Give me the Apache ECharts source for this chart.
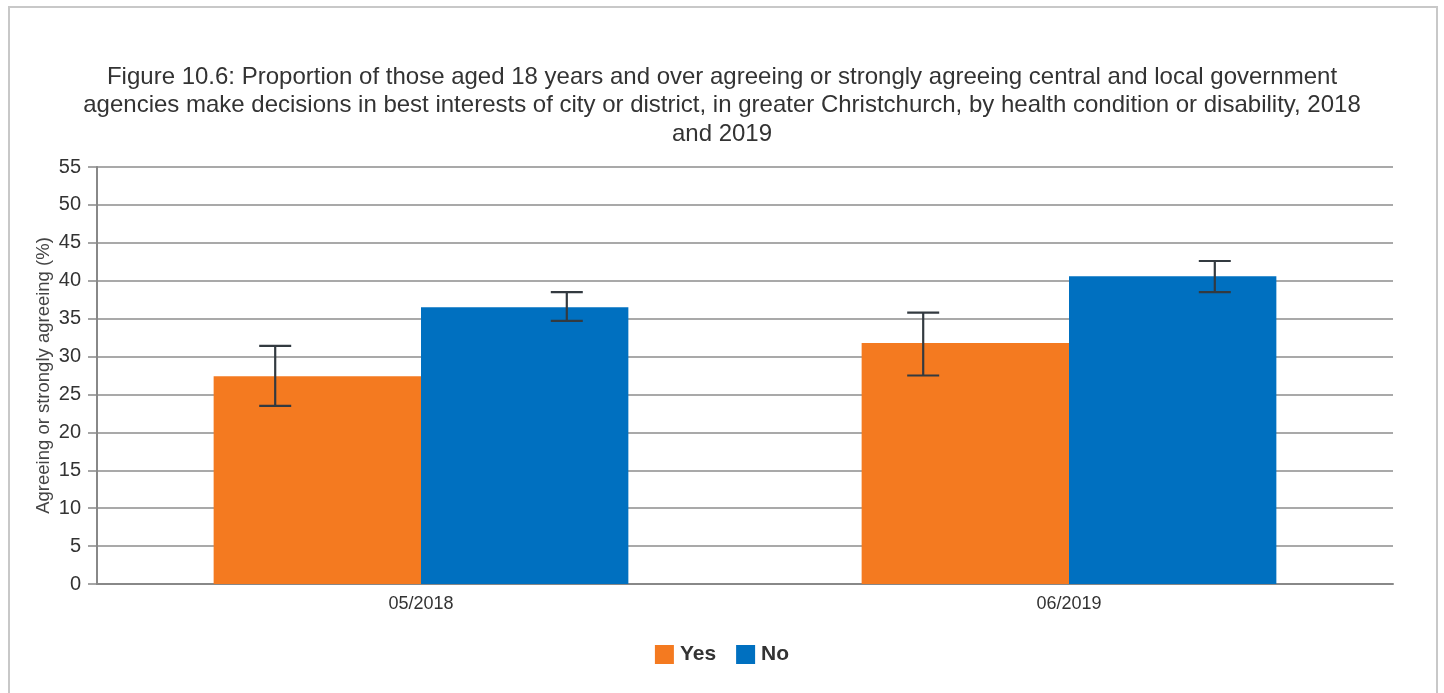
<!DOCTYPE html>
<html>
<head>
<meta charset="utf-8">
<script src="https://cdn.jsdelivr.net/npm/echarts@6/dist/echarts.min.js"></script>
<style>
html,body{margin:0;padding:0;background:#fff;}
#frame{position:absolute;left:8px;top:6px;width:1430px;height:700px;border:2px solid #c8c8c8;border-bottom:none;box-sizing:border-box;}
#chart{position:absolute;left:0;top:0;width:1444px;height:693px;}
</style>
</head>
<body>
<div id="frame"></div>
<div id="chart"></div>
<script>
const categories = ['05/2018', '06/2019'];
const seriesNames = ['Yes', 'No'];
const yesValues = [27.4, 31.8];
const noValues = [36.5, 40.6];
const yesLow = [23.5, 27.5];
const yesHigh = [31.4, 35.8];
const noLow = [34.7, 38.5];
const noHigh = [38.5, 42.6];
const yTicks = [0, 5, 10, 15, 20, 25, 30, 35, 40, 45, 50, 55];

const FONT = '"Liberation Sans", Arial, sans-serif';

function errorSeries(name, low, high, side) {
  return {
    type: 'custom',
    name: name + ' error',
    z: 10,
    silent: true,
    data: categories.map((c, i) => [i, low[i], high[i]]),
    renderItem: function (params, api) {
      const i = api.value(0);
      const lo = api.coord([i, api.value(1)]);
      const hi = api.coord([i, api.value(2)]);
      const catW = api.size([1, 0])[0];
      const x = lo[0] + side * catW * 0.225;
      const cap = 16;
      const style = { stroke: '#333a40', lineWidth: 2.2, fill: null };
      return {
        type: 'group',
        children: [
          { type: 'line', shape: { x1: x, y1: hi[1], x2: x, y2: lo[1] }, style: style },
          { type: 'line', shape: { x1: x - cap, y1: hi[1], x2: x + cap, y2: hi[1] }, style: style },
          { type: 'line', shape: { x1: x - cap, y1: lo[1], x2: x + cap, y2: lo[1] }, style: style }
        ]
      };
    }
  };
}

const chart = echarts.init(document.getElementById('chart'), null, { renderer: 'canvas' });
chart.setOption({
  backgroundColor: 'transparent',
  animation: false,
  title: {
    text: 'Figure 10.6: Proportion of those aged 18 years and over agreeing or strongly agreeing central and local government\nagencies make decisions in best interests of city or district, in greater Christchurch, by health condition or disability, 2018\nand 2019',
    left: 'center',
    top: 58,
    textStyle: { fontFamily: FONT, fontSize: 24, fontWeight: 'normal', color: '#333333', lineHeight: 28.5 }
  },
  legend: {
    data: seriesNames,
    bottom: 23,
    left: 'center',
    itemWidth: 19,
    itemHeight: 19,
    itemGap: 20,
    icon: 'rect',
    textStyle: { fontFamily: FONT, fontSize: 21, fontWeight: 'bold', color: '#333333', padding: [0, 0, 0, 1] }
  },
  grid: { left: 97, right: 51, top: 167, bottom: 109, containLabel: false },
  xAxis: {
    type: 'category',
    data: categories,
    axisLine: { lineStyle: { color: '#888888', width: 2 } },
    axisTick: { show: false },
    axisLabel: { fontFamily: FONT, fontSize: 18, color: '#333333', margin: 11 }
  },
  yAxis: {
    type: 'value',
    min: 0,
    max: 55,
    interval: 5,
    name: 'Agreeing or strongly agreeing (%)',
    nameLocation: 'middle',
    nameGap: 44,
    nameMoveOverlap: false,
    nameTextStyle: { fontFamily: FONT, fontSize: 18.5, color: '#444444' },
    axisLine: { show: true, lineStyle: { color: '#888888', width: 2 } },
    axisTick: { show: true, length: 9, lineStyle: { color: '#888888', width: 1.5 } },
    axisLabel: {
      fontFamily: FONT, fontSize: 20, color: '#333333', margin: 16,
      formatter: v => yTicks.includes(v) ? String(v) : ''
    },
    splitLine: { lineStyle: { color: '#8c8c8c', width: 1.5 } }
  },
  series: [
    {
      name: 'Yes', type: 'bar', data: yesValues,
      barGap: '0%', barCategoryGap: '36%',
      itemStyle: { color: '#F47A20' }
    },
    {
      name: 'No', type: 'bar', data: noValues,
      barGap: '0%', barCategoryGap: '36%',
      itemStyle: { color: '#0070C0' }
    },
    errorSeries('Yes', yesLow, yesHigh, -1),
    errorSeries('No', noLow, noHigh, 1)
  ]
});
</script>
</body>
</html>
